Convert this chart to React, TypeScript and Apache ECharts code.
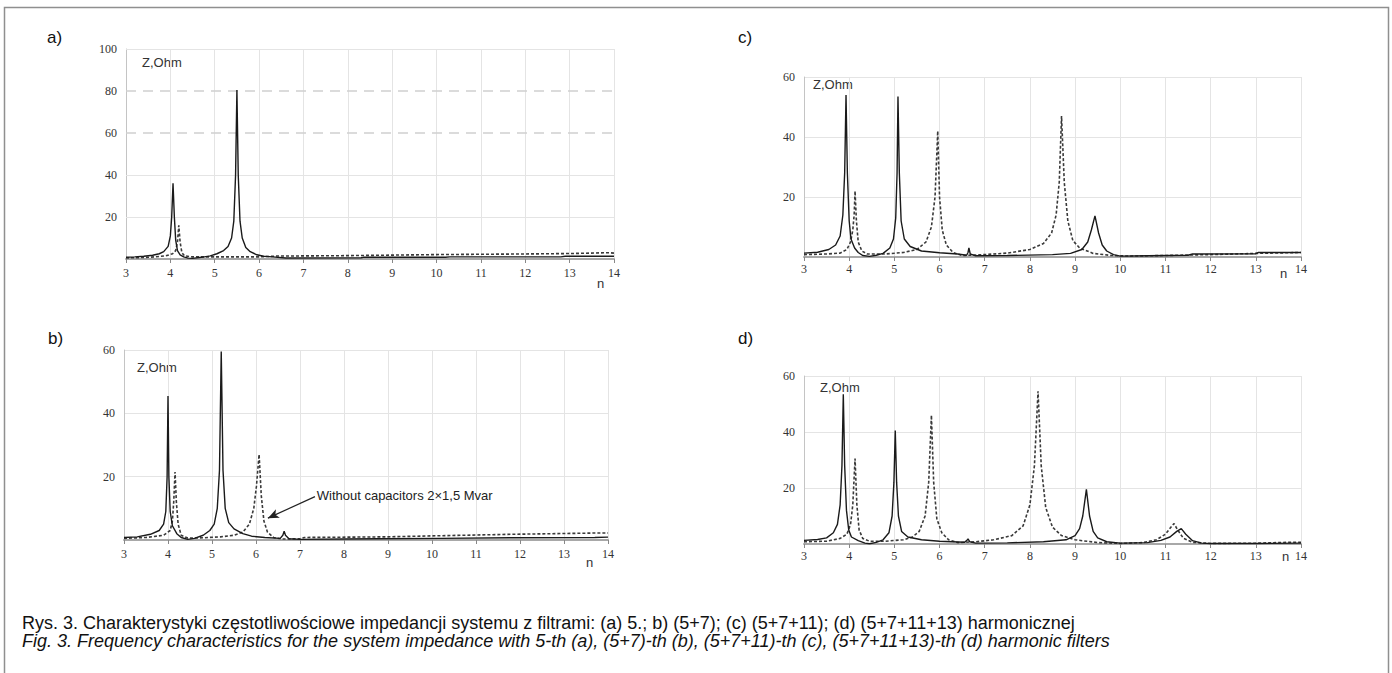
import React, { useEffect, useRef } from "react";
import * as echarts from "echarts";

// ---------- data ----------
const xTicks = [3, 4, 5, 6, 7, 8, 9, 10, 11, 12, 13, 14];

// panel a) 5-th harmonic filter
const aSolid: [number, number][] = [
  [3, 0.8], [3.2, 1], [3.4, 1.3], [3.6, 1.8], [3.75, 2.5], [3.85, 3.5], [3.95, 6], [4.0, 11],
  [4.03, 20], [4.06, 36], [4.09, 20], [4.12, 9], [4.16, 4], [4.22, 2], [4.3, 1], [4.4, 0.4],
  [4.5, 0.3], [4.7, 0.8], [4.9, 1.5], [5.05, 2.5], [5.2, 4], [5.3, 6], [5.38, 10], [5.43, 18],
  [5.47, 40], [5.5, 80.5], [5.53, 40], [5.57, 18], [5.62, 10], [5.7, 5.5], [5.8, 3.5], [5.95, 2],
  [6.1, 1.3], [6.3, 1], [6.6, 0.5], [8.3, 0.6], [8.35, 0.8], [10.2, 0.8], [10.3, 1], [12.8, 1],
  [12.9, 1.3], [14, 1.3],
];
const aDashed: [number, number][] = [
  [3, 0.5], [3.5, 0.8], [3.9, 1.5], [4.05, 2.5], [4.12, 4], [4.16, 8], [4.19, 16], [4.22, 8],
  [4.26, 3], [4.32, 1.5], [4.5, 1], [5, 1], [5.5, 1], [6, 1], [6.4, 1.4], [8, 1.6], [10, 2.1],
  [12, 2.4], [13, 2.6], [13.9, 3], [14, 2.8],
];
const aGridSolid = [20, 40, 100];
const aGridDashed = [60, 80];

// panel b) (5+7)
const bSolid: [number, number][] = [
  [3, 0.8], [3.3, 1], [3.6, 1.8], [3.8, 3], [3.9, 5], [3.95, 9], [3.98, 20], [4.0, 45.5],
  [4.02, 20], [4.05, 9], [4.1, 4.5], [4.2, 2], [4.3, 0.8], [4.45, 0.2], [4.6, 0.5], [4.8, 1.5],
  [4.95, 3], [5.05, 5], [5.12, 10], [5.17, 22], [5.21, 59.5], [5.25, 22], [5.3, 10], [5.38, 5.5],
  [5.5, 3.5], [5.7, 2], [5.9, 1.2], [6.2, 0.8], [6.55, 0.5], [6.61, 1.5], [6.64, 2.8], [6.67, 1.5],
  [6.75, 0.4], [7, 0.2], [8, 0.3], [8.8, 0.4], [10.2, 0.5], [11.8, 0.7], [13.7, 0.8], [14, 0.9],
];
const bDashed: [number, number][] = [
  [3, 0.5], [3.5, 0.8], [3.9, 1.5], [4.05, 3], [4.1, 6], [4.13, 12], [4.16, 21.5], [4.19, 12],
  [4.23, 5], [4.3, 1.5], [4.45, 0.6], [4.8, 0.7], [5.2, 1], [5.5, 1.5], [5.7, 2.5], [5.85, 5],
  [5.95, 10], [6.01, 17], [6.07, 27], [6.12, 14], [6.18, 6], [6.26, 2.5], [6.4, 0.8], [6.6, 0.3],
  [7, 0.4], [7.1, 0.8], [9, 1], [10, 1.3], [11.8, 1.8], [13.7, 2.2], [14, 2.2],
];
const bAnnotation = "Without capacitors 2×1,5 Mvar";
const bAnnotationText: [number, number] = [7.38, 14.2];
const bArrowFrom: [number, number] = [7.34, 13.7];
const bArrowTo: [number, number] = [6.27, 6.9];

// panel c) (5+7+11)
const cSolid: [number, number][] = [
  [3, 1.3], [3.3, 1.6], [3.55, 2.5], [3.7, 4], [3.8, 7], [3.86, 14], [3.9, 28], [3.93, 54],
  [3.96, 28], [4.0, 12], [4.04, 6], [4.08, 4.5], [4.12, 3], [4.2, 1.5], [4.3, 0.5], [4.45, 0.2],
  [4.6, 0.6], [4.75, 1.2], [4.9, 3], [4.98, 6], [5.03, 13], [5.06, 28], [5.08, 53.5], [5.11, 28],
  [5.15, 12], [5.22, 6], [5.35, 3.5], [5.6, 2], [6, 1.4], [6.4, 1], [6.6, 0.6], [6.63, 1.5],
  [6.65, 3], [6.68, 1], [6.8, 0.4], [7.5, 0.5], [8.5, 0.8], [8.9, 1.2], [9.15, 2.5], [9.28, 5],
  [9.36, 9], [9.44, 13.7], [9.52, 8], [9.6, 4], [9.7, 2], [9.85, 0.8], [10, 0.3], [10.6, 0.4],
  [11.5, 0.6], [11.6, 1], [13, 1.1], [13.05, 1.5], [14, 1.5],
];
const cDashed: [number, number][] = [
  [3, 0.8], [3.5, 1], [3.8, 1.3], [3.95, 2.5], [4.03, 5], [4.08, 9], [4.11, 14], [4.13, 22],
  [4.16, 12], [4.2, 5], [4.28, 2], [4.4, 1], [4.8, 1], [5.2, 1.5], [5.5, 2.5], [5.7, 5],
  [5.82, 10], [5.9, 20], [5.96, 42], [6.0, 20], [6.06, 9], [6.15, 4], [6.3, 1.5], [6.5, 0.5],
  [7, 0.8], [7.5, 1.3], [8, 2.5], [8.3, 4.5], [8.48, 8], [8.58, 14], [8.65, 25], [8.7, 47],
  [8.76, 25], [8.84, 12], [8.95, 5.5], [9.1, 3], [9.4, 1.2], [9.8, 0.5], [10.2, 0.3], [11, 0.5],
  [12, 0.8], [13, 1.2], [14, 1.5],
];

// panel d) (5+7+11+13)
const dSolid: [number, number][] = [
  [3, 1.3], [3.3, 1.6], [3.5, 2.2], [3.65, 4], [3.74, 7], [3.8, 14], [3.84, 28], [3.87, 53.5],
  [3.9, 28], [3.94, 12], [3.99, 5], [4.05, 2.5], [4.2, 1.2], [4.35, 0.3], [4.45, 0.1], [4.6, 0.6],
  [4.75, 1.5], [4.88, 4], [4.95, 10], [4.99, 22], [5.02, 40.5], [5.05, 22], [5.09, 10], [5.16, 4.5],
  [5.3, 2.5], [5.6, 1.5], [6, 1], [6.55, 0.6], [6.6, 1.2], [6.63, 1.8], [6.67, 0.8], [6.8, 0.3],
  [7.5, 0.4], [8.3, 0.8], [8.8, 1.5], [9.0, 3], [9.1, 5.5], [9.17, 10], [9.25, 19.5], [9.32, 10],
  [9.4, 4.5], [9.5, 2.2], [9.7, 0.8], [10, 0.3], [10.6, 0.5], [10.9, 1.3], [11.1, 2.5], [11.25, 4.5],
  [11.35, 5.5], [11.45, 3.5], [11.6, 1.2], [11.8, 0.3], [12, 0.2], [13, 0.2], [14, 0.3],
];
const dDashed: [number, number][] = [
  [3, 0.8], [3.5, 1], [3.8, 2], [3.95, 3.5], [4.03, 7], [4.08, 14], [4.13, 30.5], [4.17, 14],
  [4.22, 5], [4.3, 2], [4.45, 1], [4.8, 1], [5.2, 1.5], [5.4, 2.5], [5.55, 4.5], [5.68, 10],
  [5.76, 22], [5.82, 46], [5.87, 22], [5.94, 9], [6.05, 4], [6.2, 1.5], [6.4, 0.5], [6.8, 0.8],
  [7.2, 1.5], [7.6, 3], [7.85, 6.5], [8.0, 14], [8.1, 28], [8.18, 54.5], [8.25, 28], [8.35, 13],
  [8.5, 6], [8.7, 3], [9.0, 1.5], [9.5, 0.5], [10, 0.2], [10.5, 0.5], [10.8, 1.5], [11.0, 3.5],
  [11.12, 6], [11.19, 7.3], [11.27, 5], [11.4, 2], [11.6, 0.6], [12, 0.2], [13, 0.3], [13.7, 0.6],
  [14, 0.6],
];

const yMaxes = [100, 60, 60, 60];
const panelLetters = ["a)", "b)", "c)", "d)"];
const yLabel = "Z,Ohm";
const xLabel = "n";
const caption1 =
  "Rys. 3. Charakterystyki częstotliwościowe impedancji systemu z filtrami: (a) 5.; b) (5+7); (c) (5+7+11); (d) (5+7+11+13) harmonicznej";
const caption2 =
  "Fig. 3. Frequency characteristics for the system impedance with 5-th (a), (5+7)-th (b), (5+7+11)-th (c), (5+7+11+13)-th (d) harmonic filters";

// ---------- layout ----------
const grids = [
  { left: 126, top: 49, width: 488, height: 210 },
  { left: 124, top: 350, width: 484, height: 190 },
  { left: 804, top: 77, width: 497, height: 180 },
  { left: 804, top: 376, width: 497, height: 168 },
];
const xLabelMargin = [8, 8, 6, 6];
const letterPos = [[47, 37], [48, 338], [738, 37], [738, 338]];
const zPos = [[142, 62], [137, 367], [813, 84], [820, 387]];
const nPos = [[597, 283], [586, 562], [1280, 273], [1282, 556]];

const SANS = '"Liberation Sans", Arial, sans-serif';
const SERIF = '"Liberation Serif", "Times New Roman", serif';

function buildOption() {
  const curves = [
    [aSolid, aDashed],
    [bSolid, bDashed],
    [cSolid, cDashed],
    [dSolid, dDashed],
  ];

  const xAxis = grids.map((_, i) => ({
    type: "value",
    gridIndex: i,
    min: xTicks[0],
    max: xTicks[xTicks.length - 1],
    interval: 1,
    axisLine: { show: true, onZero: false, lineStyle: { color: "#a8a8a8", width: 2 } },
    axisTick: { show: true, length: 4, lineStyle: { color: "#888", width: 1 } },
    axisLabel: {
      fontFamily: SERIF,
      fontSize: 12,
      color: "#333",
      margin: xLabelMargin[i],
      showMinLabel: true,
      showMaxLabel: true,
    },
    splitLine: { show: true, lineStyle: { color: "#e4e4e4", width: 1 } },
  }));

  const yAxis = grids.map((_, i) => ({
    type: "value",
    gridIndex: i,
    min: 0,
    max: yMaxes[i],
    interval: 20,
    axisLine: { show: true, lineStyle: { color: "#c4c4c4", width: 1 } },
    axisTick: { show: false },
    axisLabel: {
      fontFamily: SERIF,
      fontSize: 12,
      color: "#333",
      margin: 9,
      formatter: (v: number) => (v === 0 ? "" : String(v)),
    },
    splitLine: { show: i !== 0, lineStyle: { color: "#e4e4e4", width: 1 } },
  }));

  const series: any[] = [];
  curves.forEach(([solid, dashed], i) => {
    const solidSeries: any = {
      type: "line",
      xAxisIndex: i,
      yAxisIndex: i,
      data: solid,
      showSymbol: false,
      symbol: "none",
      z: 3,
      lineStyle: { color: "#1a1a1a", width: 1.4 },
    };
    const dashedSeries: any = {
      type: "line",
      xAxisIndex: i,
      yAxisIndex: i,
      data: dashed,
      showSymbol: false,
      symbol: "none",
      z: 2,
      lineStyle: { color: "#3a3a3a", width: 1.6, type: [3, 2] },
    };
    if (i === 0) {
      solidSeries.markLine = {
        silent: true,
        symbol: ["none", "none"],
        label: { show: false },
        z: 1,
        data: [
          ...aGridSolid.map((v) => ({ yAxis: v, lineStyle: { type: "solid", color: "#e4e4e4", width: 1 } })),
          ...aGridDashed.map((v) => ({ yAxis: v, lineStyle: { type: [10, 7], color: "#cfcfcf", width: 1.5 } })),
        ],
      };
    }
    if (i === 1) {
      dashedSeries.markLine = {
        silent: true,
        symbol: ["none", "arrow"],
        symbolSize: [7, 11],
        label: { show: false },
        lineStyle: { color: "#222", width: 1.2, type: "solid" },
        data: [[{ coord: bArrowFrom }, { coord: bArrowTo }]],
      };
      dashedSeries.markPoint = {
        silent: true,
        symbol: "circle",
        symbolSize: 0,
        label: {
          show: true,
          position: "right",
          distance: 0,
          formatter: bAnnotation,
          fontFamily: SANS,
          fontSize: 13,
          color: "#222",
        },
        data: [{ coord: bAnnotationText }],
      };
    }
    series.push(dashedSeries, solidSeries);
  });

  const graphic: any[] = [
    {
      type: "rect",
      silent: true,
      shape: { x: 4.5, y: 7.5, width: 1384, height: 700 },
      style: { fill: "none", stroke: "#8f8f8f", lineWidth: 1.5 },
    },
  ];
  grids.forEach((_, i) => {
    graphic.push(
      {
        type: "text",
        silent: true,
        x: letterPos[i][0],
        y: letterPos[i][1],
        style: { text: panelLetters[i], font: `17px ${SANS}`, fill: "#111", verticalAlign: "middle" },
      },
      {
        type: "text",
        silent: true,
        x: zPos[i][0],
        y: zPos[i][1],
        style: { text: yLabel, font: `13px ${SANS}`, fill: "#333", verticalAlign: "middle" },
      },
      {
        type: "text",
        silent: true,
        x: nPos[i][0],
        y: nPos[i][1],
        style: { text: xLabel, font: `13px ${SANS}`, fill: "#333", verticalAlign: "middle" },
      }
    );
  });
  graphic.push(
    {
      type: "text",
      silent: true,
      x: 22,
      y: 623,
      style: { text: caption1, font: `18px ${SANS}`, fill: "#111", verticalAlign: "middle" },
    },
    {
      type: "text",
      silent: true,
      x: 22,
      y: 641,
      style: { text: caption2, font: `italic 18px ${SANS}`, fill: "#111", verticalAlign: "middle" },
    }
  );

  return {
    animation: false,
    backgroundColor: "#ffffff",
    grid: grids.map((g) => ({ ...g, containLabel: false })),
    xAxis,
    yAxis,
    series,
    graphic,
  };
}

export default function App() {
  const ref = useRef<HTMLDivElement>(null);
  useEffect(() => {
    if (!ref.current) return;
    const chart = echarts.init(ref.current, null, { renderer: "svg" });
    chart.setOption(buildOption() as any);
    return () => chart.dispose();
  }, []);
  return (
    <div
      ref={ref}
      style={{ position: "fixed", left: 0, top: 0, width: 1392, height: 673, background: "#fff" }}
    />
  );
}
